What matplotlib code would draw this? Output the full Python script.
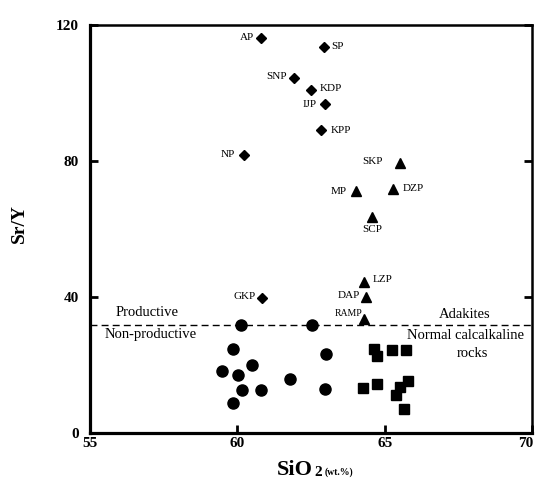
import numpy as np
import matplotlib
matplotlib.use("Agg")
import matplotlib.pyplot as plt
from matplotlib.transforms import ScaledTranslation

plt.rcParams['font.family'] = ['Liberation Serif', 'DejaVu Serif']

# productive porphyries (diamonds)
dia_names = ['AP', 'SP', 'SNP', 'KDP', 'IJP', 'KPP', 'NP', 'GKP']
dia_sio2 = [60.80, 62.94, 61.93, 62.49, 62.98, 62.85, 60.22, 60.85]
dia_sry = [116.2, 113.4, 104.3, 100.8, 96.7, 89.1, 81.7, 39.8]

# triangles
tri_names = ['SKP', 'DZP', 'MP', 'SCP', 'LZP', 'DAP', 'RAMP']
tri_sio2 = [65.53, 65.29, 64.03, 64.57, 64.29, 64.36, 64.30]
tri_sry = [79.3, 71.8, 71.2, 63.6, 44.3, 40.1, 33.4]

# non-productive (circles)
cir_sio2 = [60.12, 62.54, 59.84, 63.00, 60.50, 59.49, 60.01, 61.79, 60.17, 60.79, 62.96, 59.86]
cir_sry = [31.8, 31.8, 24.7, 23.2, 20.1, 18.1, 17.0, 15.8, 12.6, 12.6, 12.9, 8.9]

# squares
sq_sio2 = [64.63, 64.73, 65.24, 65.71, 64.25, 64.75, 65.80, 65.52, 65.37, 65.65]
sq_sry = [24.7, 22.7, 24.4, 24.4, 13.3, 14.4, 15.4, 13.4, 11.2, 7.1]

boundary = 31.8

# label offsets in points: (dx, dy, ha)
lab_off = {
    'AP': (-5, 0.5, 'right'), 'SP': (5.5, 1, 'left'), 'SNP': (-5.5, 1.5, 'right'),
    'KDP': (6.5, 1.5, 'left'), 'IJP': (-6, 0, 'right'), 'KPP': (6.5, 0, 'left'),
    'NP': (-6, 0.5, 'right'), 'GKP': (-4.5, 0.5, 'right'),
    'SKP': (-12.5, 1.5, 'right'), 'DZP': (6.8, 0, 'left'), 'MP': (-6.7, -0.5, 'right'),
    'SCP': (0, -9, 'center'), 'LZP': (6.5, 2, 'left'), 'DAP': (-4, 0.5, 'right'),
    'RAMP': (-1.5, 4.5, 'right'),
}

fig = plt.figure(figsize=(5.37, 4.79), dpi=100)
ax = fig.add_axes([90/537, 1-433/479, 442/537, 408/479])

ax.plot(dia_sio2, dia_sry, 'D', color='black', ms=5.6, ls='none')
ax.plot(tri_sio2, tri_sry, '^', color='black', ms=7.5, ls='none')
ax.plot(cir_sio2, cir_sry, 'o', color='black', ms=8, ls='none')
ax.plot(sq_sio2, sq_sry, 's', color='black', ms=7.2, ls='none')

for names, xs, ys in [(dia_names, dia_sio2, dia_sry), (tri_names, tri_sio2, tri_sry)]:
    for n, x, y in zip(names, xs, ys):
        dx, dy, ha = lab_off[n]
        ax.annotate(n, (x, y), xytext=(dx, dy), textcoords='offset points',
                    ha=ha, va='center', fontsize=7 if n == 'RAMP' else 8)

ax.axhline(boundary, color='black', ls=(0, (5, 3)), lw=1)

ax.text(55.88, 35.3, 'Productive', fontsize=10.5, va='center')
ax.text(55.51, 29.0, 'Non-productive', fontsize=10.5, va='center')
ax.text(67.71, 35.0, 'Adakites', fontsize=10.5, va='center', ha='center')
ax.text(67.74, 28.8, 'Normal calcalkaline', fontsize=10.5, va='center', ha='center')
ax.text(67.98, 23.4, 'rocks', fontsize=10.5, va='center', ha='center')

ax.set_xlim(55, 70)
ax.set_ylim(0, 120)
ax.set_xticks([55, 60, 65, 70])
ax.set_yticks([0, 40, 80, 120])
for lab in ax.get_xticklabels() + ax.get_yticklabels():
    lab.set_fontweight('bold')
ax.tick_params(axis='x', direction='in', length=6, width=2, labelsize=11, pad=3)
ax.tick_params(axis='y', direction='in', length=6, width=2, labelsize=11, pad=8,
               right=True)
# keep the last x label inside the figure
last = ax.get_xticklabels()[-1]
last.set_transform(last.get_transform() + ScaledTranslation(-6/100, 0, fig.dpi_scale_trans))

for s in ['left', 'bottom']:
    ax.spines[s].set_linewidth(2.3)
for s in ['top', 'right']:
    ax.spines[s].set_linewidth(1.8)

fig.text(19/537, 1-224/479, 'Sr/Y', rotation=90, ha='center', va='center',
         fontsize=14, fontweight='bold')
fig.text(277/537, 1-475/479, 'SiO', ha='left', va='baseline', fontsize=16, fontweight='bold')
fig.text(314/537, 1-476/479, '2', ha='left', va='baseline', fontsize=11, fontweight='bold')
fig.text(325/537, 1-475/479, '(wt.%)', ha='left', va='baseline', fontsize=7, fontweight='bold')

fig.savefig('out.png', dpi=100)
